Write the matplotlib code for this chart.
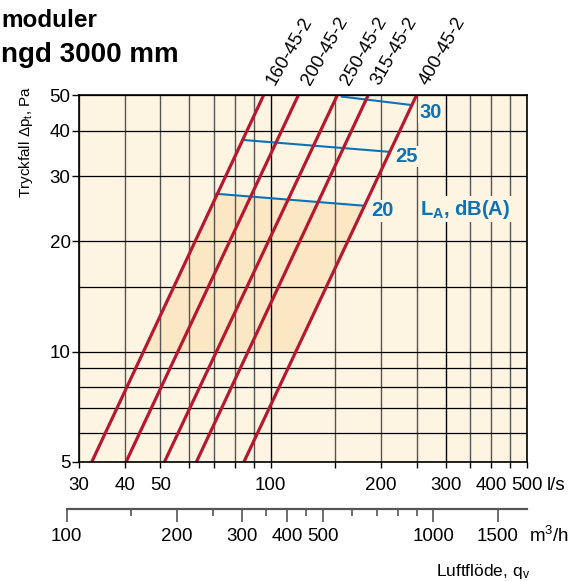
import numpy as np
import matplotlib.pyplot as plt
from matplotlib.ticker import NullLocator, NullFormatter, FixedLocator, FixedFormatter

plt.rcParams['font.family'] = 'Liberation Sans'
plt.rcParams['mathtext.fontset'] = 'custom'
plt.rcParams['mathtext.rm'] = 'Liberation Sans'
plt.rcParams['mathtext.it'] = 'Liberation Sans:italic'
plt.rcParams['mathtext.bf'] = 'Liberation Sans:bold'

# --- data ---
# pressure drop lines: airflow (l/s) where each size hits 5 Pa and 50 Pa
sizes = ['160-45-2', '200-45-2', '250-45-2', '315-45-2', '400-45-2']
q_at_5pa = [32.5, 40.3, 51.3, 62.7, 84.5]
q_at_50pa = [95.7, 119.0, 152.0, 184.5, 250.0]
dp_ends = [5, 50]

# sound level lines, start / end points
la_levels = ['20', '25', '30']
la_q = [[71.1, 179.0], [84.5, 211.0], [156.2, 241.5]]
la_dp = [[26.9, 24.97], [37.7, 35.0], [49.5, 46.97]]
la_label_q = [202, 235, 273]
la_label_dp = [24.2, 34.0, 44.8]

# shaded area: from 10 Pa up to the 20 dB(A) line
shade_bottom_dp = 10

x_grid = [30, 40, 50, 60, 70, 80, 90, 100, 150, 200, 250, 300, 350, 400, 450, 500]
x_labeled = [30, 40, 50, 100, 200, 300, 400, 500]
x_dark = [100, 300]
y_grid = [5, 6, 7, 8, 9, 10, 15, 20, 30, 40, 50]
y_labeled = [5, 10, 20, 30, 40, 50]

m3h_major = [100, 200, 300, 400, 500, 1000, 1500]
m3h_minor = [150, 250, 350, 450, 600, 700, 800, 900]
ls_to_m3h = 3.6

# --- style ---
W, H = 584, 581
bg = '#FDF4E1'
shade = '#FCE7C5'
red = '#B8182F'
blue = '#0B72B9'

fig = plt.figure(figsize=(W / 100, H / 100), dpi=100)

ax_l, ax_r, ax_t, ax_b = 79, 527, 95, 462
ax = fig.add_axes([ax_l / W, (H - ax_b) / H, (ax_r - ax_l) / W, (ax_b - ax_t) / H])
ax.set_xscale('log')
ax.set_yscale('log')
ax.set_xlim(30, 500)
ax.set_ylim(5, 50)
ax.set_facecolor(bg)

for xv in x_grid:
    ax.axvline(xv, color='black' if xv in x_dark else '#555555', lw=1.0, zorder=1)
for yv in y_grid:
    ax.axhline(yv, color='black', lw=0.9, zorder=1)


def q_on_line(i, dp):
    k = np.log10(q_at_50pa[i] / q_at_5pa[i])
    return q_at_5pa[i] * 10 ** (k * np.log10(dp / 5))


# shaded parallelogram between smallest and largest size
poly_q = [q_on_line(0, shade_bottom_dp), q_on_line(4, shade_bottom_dp), la_q[0][1], la_q[0][0]]
poly_dp = [shade_bottom_dp, shade_bottom_dp, la_dp[0][1], la_dp[0][0]]
ax.fill(poly_q, poly_dp, color=shade, lw=0, zorder=0.5)

for i, name in enumerate(sizes):
    ax.plot([q_at_5pa[i], q_at_50pa[i]], dp_ends, color=red, lw=2.3,
            solid_capstyle='butt', zorder=3)
    ax.annotate(name, (q_at_50pa[i], dp_ends[1]), xytext=(0, 7),
                textcoords='offset pixels', rotation=60, ha='left', va='bottom',
                fontsize=13.5, annotation_clip=False)

for i, lvl in enumerate(la_levels):
    ax.plot(la_q[i], la_dp[i], color=blue, lw=1.5, zorder=2)
    ax.text(la_label_q[i], la_label_dp[i], lvl, color=blue, fontsize=14.5,
            fontweight='bold', ha='center', va='center', zorder=4,
            bbox=dict(facecolor=bg, edgecolor='none', pad=1))
ax.text(340, 24.4, r'$\mathbf{L_A}$, dB(A)', color=blue, fontsize=14.5,
        fontweight='bold', ha='center', va='center', zorder=4,
        bbox=dict(facecolor=bg, edgecolor='none', pad=1))

for s in ax.spines.values():
    s.set_color('black')
    s.set_linewidth(1.2)
    s.set_zorder(5)

ax.xaxis.set_major_locator(FixedLocator(x_grid))
ax.xaxis.set_major_formatter(FixedFormatter([str(v) if v in x_labeled else '' for v in x_grid]))
ax.xaxis.set_minor_locator(NullLocator())
ax.yaxis.set_major_locator(FixedLocator(y_labeled))
ax.yaxis.set_major_formatter(FixedFormatter([str(v) for v in y_labeled]))
ax.yaxis.set_minor_locator(NullLocator())
ax.tick_params(axis='x', direction='out', length=4, width=1, pad=7, labelsize=13.5)
ax.tick_params(axis='y', direction='out', length=5, width=1, pad=1, labelsize=13.5)

fig.text(547 / W, 1 - 490 / H, 'l/s', fontsize=13.5, ha='left', va='baseline')

# second flow scale in m3/h
dec_px = (ax_r - ax_l) / np.log10(500 / 30)
ax2_l = ax_l - dec_px * np.log10(30 * ls_to_m3h / m3h_major[0])
ax2_y = 509
ax2 = fig.add_axes([ax2_l / W, (H - ax2_y) / H, (ax_r - ax2_l) / W, 0.001])
ax2.set_xscale('log')
ax2.set_xlim(m3h_major[0], 500 * ls_to_m3h)
ax2.patch.set_visible(False)
for side in ['left', 'right', 'top']:
    ax2.spines[side].set_visible(False)
ax2.spines['bottom'].set_color('#555555')
ax2.spines['bottom'].set_linewidth(1.6)
ax2.set_yticks([])
ax2.xaxis.set_major_locator(FixedLocator(m3h_major))
ax2.xaxis.set_major_formatter(FixedFormatter([str(v) for v in m3h_major]))
ax2.xaxis.set_minor_locator(FixedLocator(m3h_minor))
ax2.xaxis.set_minor_formatter(NullFormatter())
ax2.tick_params(axis='x', which='major', direction='out', length=9, width=1.2,
                color='#555555', pad=5, labelsize=13.5)
ax2.tick_params(axis='x', which='minor', direction='out', length=5, width=1.2,
                color='#555555')

fig.text(529 / W, 1 - 542 / H, r'm$^3$/h', fontsize=13.5, ha='left', va='baseline')
fig.text(530 / W, 1 - 576 / H, r'Luftflöde, q$_\mathrm{v}$', fontsize=12.5,
         ha='right', va='baseline')

fig.text(26 / W, 1 - 142 / H, r'Tryckfall Δp$_\mathrm{t}$, Pa', rotation=90,
         fontsize=11, ha='center', va='center')

# title (cut off at the left edge in the original)
fig.text(1 / W, 1 - 27 / H, 'moduler', fontsize=17.5, fontweight='bold',
         ha='left', va='baseline')
fig.text(1 / W, 1 - 62 / H, 'ngd 3000 mm', fontsize=20, fontweight='bold',
         ha='left', va='baseline')

fig.savefig('out.png', dpi=100)
